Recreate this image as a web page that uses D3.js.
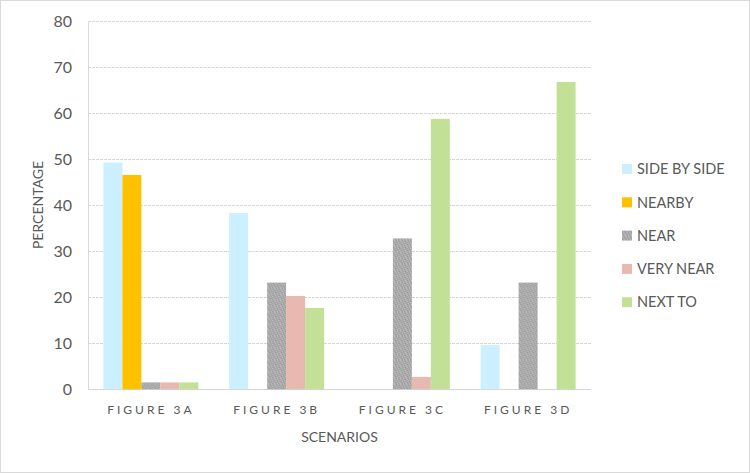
<!DOCTYPE html>
<html>
<head>
<meta charset="utf-8">
<script src="https://cdnjs.cloudflare.com/ajax/libs/d3/7.8.5/d3.min.js"></script>
<style>
  body { margin: 0; background: #fff; }
  text { font-family: Lato, "Open Sans", sans-serif; fill: #595959; }
</style>
</head>
<body>
<div class="chart"></div>
<script>
var categories = ['FIGURE 3A', 'FIGURE 3B', 'FIGURE 3C', 'FIGURE 3D'];
var seriesNames = ['SIDE BY SIDE', 'NEARBY', 'NEAR', 'VERY NEAR', 'NEXT TO'];
var sideBySide = [49.3, 38.3, 0, 9.6];
var nearby = [46.6, 0, 0, 0];
var near = [1.5, 23.2, 32.8, 23.2];
var veryNear = [1.5, 20.3, 2.7, 0];
var nextTo = [1.5, 17.7, 58.8, 66.8];
var yTicks = [0, 10, 20, 30, 40, 50, 60, 70, 80];

var seriesValues = [sideBySide, nearby, near, veryNear, nextTo];
var colors = ['#ccf0ff', '#ffc000', 'url(#nearPattern)', '#e8b9b1', '#c2e197'];

var width = 750, height = 473;
var plotLeft = 88, plotRight = 591, plotTop = 21.3, plotBottom = 389.3;

var svg = d3.select('.chart')
  .append('svg')
  .attr('width', width)
  .attr('height', height);

// speckled grey fill for NEAR
var defs = svg.append('defs');
var pat = defs.append('pattern')
  .attr('id', 'nearPattern')
  .attr('patternUnits', 'userSpaceOnUse')
  .attr('width', 6)
  .attr('height', 6);
pat.append('rect').attr('width', 6).attr('height', 6).attr('fill', '#a8a8a8');
[[0, 0], [3, 0], [1, 2], [4, 1], [2, 4], [5, 3], [0, 5], [3, 5]].forEach(function(p){
  pat.append('rect').attr('x', p[0]).attr('y', p[1]).attr('width', 1).attr('height', 1).attr('fill', '#bcbcbc');
});
[[2, 1], [5, 0], [0, 3], [4, 4], [1, 5]].forEach(function(p){
  pat.append('rect').attr('x', p[0]).attr('y', p[1]).attr('width', 1).attr('height', 1).attr('fill', '#9c9c9c');
});

svg.append('rect')
  .attr('x', 0.5).attr('y', 0.5)
  .attr('width', width - 1).attr('height', height - 1)
  .attr('fill', '#fff')
  .attr('stroke', '#d9d9d9');

var y = d3.scaleLinear().domain([0, 80]).range([plotBottom, plotTop]);
var x0 = d3.scaleBand().domain(categories).range([plotLeft, plotRight])
  .paddingInner(0.245).paddingOuter(0.1225);
var x1 = d3.scaleBand().domain(seriesNames).range([0, x0.bandwidth()]);

// gridlines
svg.append('g')
  .selectAll('line')
  .data(yTicks)
  .enter().append('line')
  .attr('x1', plotLeft).attr('x2', plotRight)
  .attr('y1', function(d){ return Math.round(y(d)) + 0.5; })
  .attr('y2', function(d){ return Math.round(y(d)) + 0.5; })
  .attr('stroke', '#d6d6d6')
  .attr('stroke-dasharray', function(d){ return d === 0 ? null : '3,1'; });

svg.append('line')
  .attr('x1', plotLeft + 0.5).attr('x2', plotLeft + 0.5)
  .attr('y1', y(80)).attr('y2', y(0))
  .attr('stroke', '#d9d9d9');

// y tick labels
var yAxis = d3.axisLeft(y).tickValues(yTicks).tickSize(0).tickPadding(16);
var gy = svg.append('g').attr('transform', 'translate(' + plotLeft + ',0)').call(yAxis);
gy.select('.domain').remove();
gy.attr('font-family', null);
gy.selectAll('text').style('font-size', '16px').attr('fill', '#595959');

// bars
var groups = svg.append('g')
  .selectAll('g')
  .data(categories)
  .enter().append('g')
  .attr('transform', function(d){ return 'translate(' + x0(d) + ',0)'; });

groups.selectAll('rect')
  .data(function(d, i){
    return seriesNames.map(function(s, j){ return {s: s, v: seriesValues[j][i], c: colors[j]}; });
  })
  .enter().append('rect')
  .attr('x', function(d){ return x1(d.s); })
  .attr('width', x1.bandwidth())
  .attr('y', function(d){ return y(d.v); })
  .attr('height', function(d){ return y(0) - y(d.v); })
  .attr('fill', function(d){ return d.c; });

// x tick labels
var xAxis = d3.axisBottom(x0).tickSize(0).tickPadding(16);
var gx = svg.append('g').attr('transform', 'translate(0,' + plotBottom + ')').call(xAxis);
gx.select('.domain').remove();
gx.attr('font-family', null);
gx.selectAll('text')
  .style('font-size', '12px')
  .style('letter-spacing', '3px')
  .attr('fill', '#595959');

// axis titles
svg.append('text')
  .attr('x', (plotLeft + plotRight) / 2)
  .attr('y', 442)
  .attr('text-anchor', 'middle')
  .style('font-size', '14px')
  .text('SCENARIOS');

svg.append('text')
  .attr('transform', 'translate(43,205) rotate(-90)')
  .attr('text-anchor', 'middle')
  .style('font-size', '14px')
  .text('PERCENTAGE');

// legend
var legend = svg.append('g')
  .selectAll('g')
  .data(seriesNames)
  .enter().append('g')
  .attr('transform', function(d, i){ return 'translate(622,' + (169 + i * 33.3) + ')'; });

legend.append('rect')
  .attr('x', 0).attr('y', -5)
  .attr('width', 10).attr('height', 10)
  .attr('fill', function(d, i){ return colors[i]; });

legend.append('text')
  .attr('x', 15)
  .attr('dy', '0.36em')
  .style('font-size', '14.5px')
  .text(function(d){ return d; });
</script>
</body>
</html>
